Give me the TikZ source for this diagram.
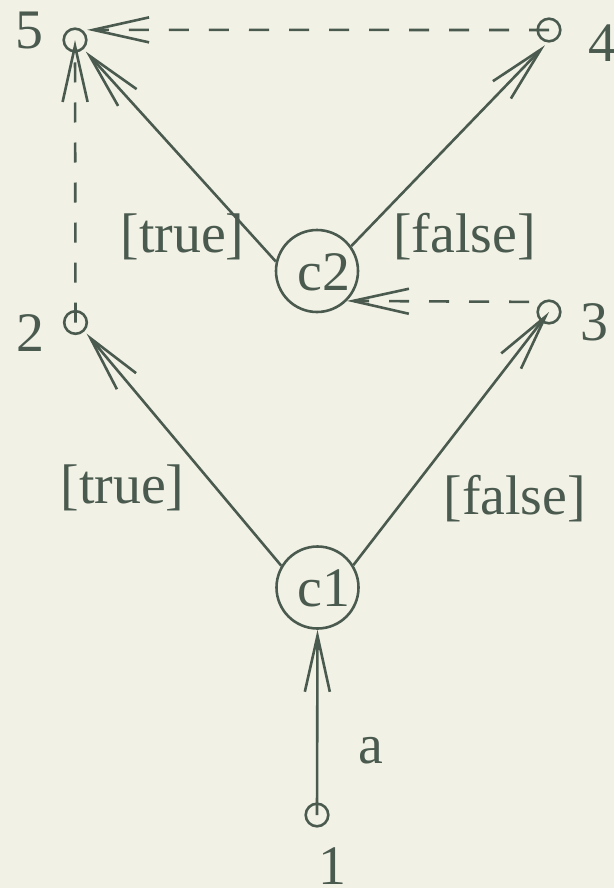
\documentclass[tikz,border=0pt]{standalone}
\usepackage{fontspec}
\setmainfont{Liberation Serif}
\usetikzlibrary{arrows.meta,calc}
\definecolor{fg}{RGB}{74,90,78}
\definecolor{bg}{RGB}{242,241,230}
\begin{document}
\begin{tikzpicture}[x=1bp,y=-1bp,
  lbl/.style={inner sep=0pt, text=fg, font=\fontsize{56}{60}\selectfont},
  pin/.style={circle, draw=fg, line width=2.6bp, minimum size=22.6bp, inner sep=0pt, outer sep=4.5bp},
  dec/.style={circle, draw=fg, line width=2.6bp, minimum size=82bp, inner sep=0pt},
  conn/.style={draw=fg, line width=2.6bp, -{Straight Barb[length=56bp,width=25bp]}},
  dashconn/.style={conn, dash pattern=on 20bp off 20bp}]
\fill[bg] (0,0) rectangle (614,888);
\useasboundingbox (0,0) rectangle (614,888);
% small circles
\node[pin] (n5) at (75,40) {};
\node[pin] (n4) at (549,30) {};
\node[pin] (n2) at (75.5,322.5) {};
\node[pin] (n3) at (549,312) {};
\node[pin] (n1) at (317,815) {};
% decision circles
\node[dec] (c1) at (317.5,587.5) {};
\node[dec] (c2) at (317,271) {};
\node[lbl] (c1t) at (324,588) {c1};
\node[lbl] (c2t) at (324,272.5) {c2};
% number labels
\node[lbl] (l5) at (29.5,31) {5};
\node[lbl] (l4) at (602,43.5) {4};
\node[lbl] (l2) at (30,333) {2};
\node[lbl] (l3) at (594,322) {3};
\node[lbl] (l1) at (332.5,866) {1};
% edge labels
\node[lbl] (ta) at (371,751) {a};
\node[lbl] (tt1) at (122.5,487.5) {[true]};
\node[lbl] (tf1) at (514.7,498.3) {[false]};
\node[lbl] (tt2) at (182.5,236.7) {[true]};
\node[lbl] (tf2) at (464.5,236.7) {[false]};
% connectors
\draw[conn] (n1.center) -- (c1.south);
\draw[conn] (c1.149) -- (n2.-45);
\draw[conn] (c1.32) -- (n3.center);
\draw[conn] (c2.167) -- (n5.-47);
\draw[conn] (c2.36) -- (n4.-105);
\draw[dashconn] (n2.center) -- (n5.center);
\draw[dashconn] (n4.center) -- (n5.40);
\draw[dashconn, dash phase=20bp] ([yshift=10bp]n3.center) -- (c2.-45);
\end{tikzpicture}
\end{document}
